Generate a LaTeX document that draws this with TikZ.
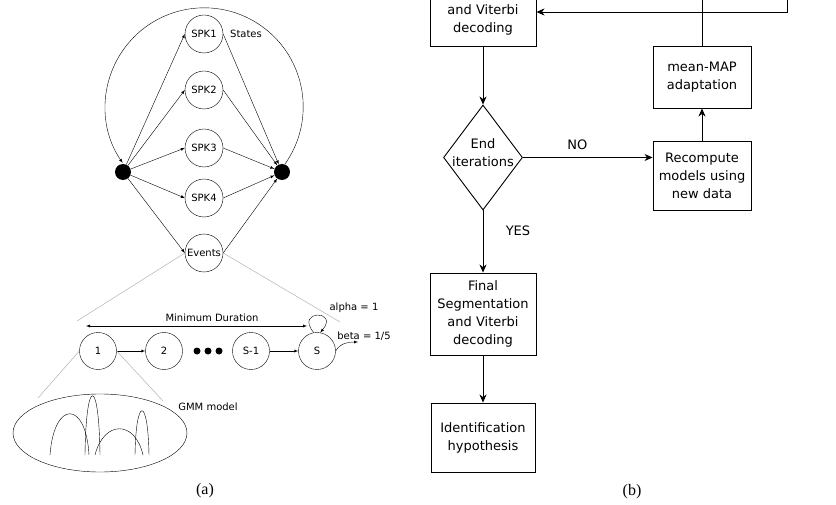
\documentclass[tikz,border=0pt]{standalone}
\usepackage{fontspec}
\setmainfont{Liberation Serif}
\setsansfont{DejaVu Sans}
\usepackage{tikz}
\usetikzlibrary{shapes.geometric,arrows,arrows.meta,positioning,calc}

\begin{document}
\begin{tikzpicture}[
            x=1pt,y=1pt,
            every node/.style={on grid},
            spk/.style={circle,draw,minimum size=38pt,inner sep=0pt,font=\sffamily\fontsize{10}{12}\selectfont},
            hub/.style={circle,fill=black,minimum size=16pt,inner sep=0pt},
            st/.style={circle,draw,minimum size=37pt,inner sep=0pt,font=\sffamily\fontsize{10}{12}\selectfont},
            dot/.style={circle,fill=black,minimum size=7pt,inner sep=0pt},
            lbl/.style={font=\sffamily\fontsize{10}{12}\selectfont},
            zoomline/.style={gray!60,line width=0.5pt},
            box/.style={draw,line width=0.9pt,align=center,inner sep=3pt,font=\sffamily\fontsize{13}{18}\selectfont},
            txt/.style={align=center,font=\sffamily\fontsize{13}{18}\selectfont},
            flow/.style={-{Stealth[length=8pt,width=7pt,inset=2.5pt]},line width=0.9pt},
            subcap/.style={font=\fontsize{16}{18}\selectfont},
            >=latex
        ]
        \useasboundingbox (0,0) rectangle (836,-505);

        % Draw states %
        \node[spk] at (204,-34) (spk1) {SPK1};
        \node[spk,below=56pt of spk1] (spk2) {SPK2};
        \node[spk,below=58pt of spk2] (spk3) {SPK3};
        \node[spk,below=50pt of spk3] (spk4) {SPK4};
        \node[spk,below=55pt of spk4] (ev) {Events};
        \node[lbl,right=42pt of spk1] (states) {States};

        % Draw hubs %
        \node[hub] at (123,-172) (hl) {};
        \node[hub] at (282,-172) (hr) {};

        % Draw arrows %
        \foreach \s in {spk1,spk2,spk3,spk4,ev}{
            \draw[->] (hl) -- (\s.west);
            \draw[->] (\s.east) -- (hr);
        }
        \draw[->] (hr.70) arc[start angle=-35.5, end angle=214.5, radius=99pt];

        % Zoom on events %
        \coordinate (zl) at (77,-321);
        \coordinate (zr) at (340,-322);
        \draw[zoomline] (ev.west) -- (zl);
        \draw[zoomline] (ev.east) -- (zr);

        % Draw event chain %
        \node[st] at (98,-351) (c1) {1};
        \node[st,right=66pt of c1] (c2) {2};
        \node[st,right=87pt of c2] (c3) {S-1};
        \node[st,right=66pt of c3] (c4) {S};
        \foreach \x [count=\i] in {197,208,219}
            \node[dot] at (\x,-351) (d\i) {};
        \draw[->] (c1) -- (c2);
        \draw[->] (c3) -- (c4);
        \draw[->] (c4.100) .. controls +(130:30) and +(50:30) .. (c4.80);
        \coordinate (bt) at (358,-342);
        \draw[->] (c4.east) to[out=60,in=180] (bt);
        \node[lbl] at (354,-308) (alpha) {alpha = 1};
        \node[lbl] at (364,-336) (beta) {beta = 1/5};

        % Minimum duration %
        \coordinate (md1) at (86,-326);
        \coordinate (md2) at (307,-326);
        \draw[<->] (md1) -- (md2);
        \node[lbl] at (212,-318) (md) {Minimum Duration};

        % Zoom on GMM %
        \coordinate (gl) at (38,-398);
        \coordinate (gr) at (163,-401);
        \draw[zoomline] (c1.west) -- (gl);
        \draw[zoomline] (c1.east) -- (gr);
        \node[ellipse,draw,minimum width=174pt,minimum height=78pt] at (100,-433) (gmm) {};
        \node[lbl] at (208,-407) (gmmlbl) {GMM model};
        \draw (50,-455) .. controls (54,-400) and (86,-400) .. (89,-455);
        \draw (85,-455) .. controls (86,-376) and (99,-376) .. (100,-455);
        \draw (95,-455) .. controls (104,-420) and (135,-420) .. (143,-455);
        \draw (135,-455) .. controls (136,-396) and (148,-396) .. (149,-455);

        % Draw flowchart %
        \node[box,minimum width=106pt,minimum height=52pt] at (483,-20) (seg) {and Viterbi\\decoding};
        \node[diamond,draw,line width=0.9pt,minimum width=79pt,minimum height=105pt,inner sep=0pt] at (483,-157.5) (dec) {};
        \node[txt] at (483,-152.5) (dectxt) {End\\iterations};
        \node[box,minimum width=98pt,minimum height=69pt] at (702,-175.5) (rec) {Recompute\\models using\\new data};
        \node[box,minimum width=98pt,minimum height=62pt,above=98.5pt of rec] (map) {mean-MAP\\adaptation};
        \node[box,minimum width=106pt,minimum height=82pt] at (483,-314) (fin) {Final\\Segmentation\\and Viterbi\\decoding};
        \node[box,minimum width=104pt,minimum height=69pt,below=123.5pt of fin] (idn) {Identification\\hypothesis};

        % Flowchart arrows %
        \draw[flow] (seg) -- (dec);
        \draw[flow] (dec.east) -- node[txt,pos=0.42,above=4pt] {NO} (dec.east -| rec.west);
        \draw[flow] (rec) -- (map);
        \draw[flow] (dec) -- node[txt,pos=0.33,right=19pt] {YES} (fin);
        \draw[flow] (fin) -- (idn);
        \coordinate (mapup) at (702,4);
        \draw[line width=0.9pt] (map.north) -- (mapup);
        \coordinate (fbtop) at (787,4);
        \coordinate (fbturn) at (787,-12);
        \draw[flow] (fbtop) -- (fbturn) -- (seg.east |- fbturn);

        % Label %
        \node[subcap] at (205,-491) (capa) {(a)};
        \node[subcap] at (632,-492) (capb) {(b)};
        \end{tikzpicture}
\end{document}
